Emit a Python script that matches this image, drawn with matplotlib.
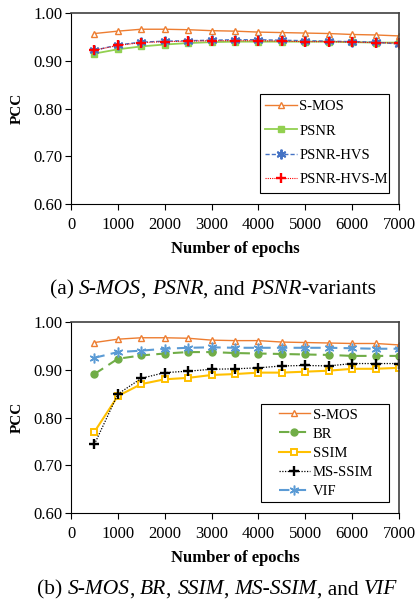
import matplotlib
matplotlib.use("Agg")
import matplotlib.pyplot as plt
from matplotlib.patches import Rectangle
import numpy as np

plt.rcParams['font.family'] = ['Liberation Serif', 'DejaVu Serif']

epochs = [500, 1000, 1500, 2000, 2500, 3000, 3500, 4000, 4500, 5000, 5500, 6000, 6500, 7000]

# Panel (a)
smos_a = [0.957, 0.962, 0.966, 0.966, 0.965, 0.963, 0.962, 0.960, 0.959, 0.958, 0.957, 0.955, 0.954, 0.952]
psnr_a = [0.915, 0.924, 0.930, 0.934, 0.937, 0.939, 0.940, 0.940, 0.940, 0.940, 0.940, 0.939, 0.938, 0.938]
psnr_hvs = [0.922, 0.933, 0.939, 0.941, 0.942, 0.943, 0.944, 0.944, 0.943, 0.942, 0.941, 0.940, 0.939, 0.935]
psnr_hvs_m = [0.922, 0.932, 0.938, 0.940, 0.941, 0.942, 0.942, 0.942, 0.941, 0.940, 0.940, 0.939, 0.938, 0.937]

# Panel (b)
smos_b = [0.957, 0.964, 0.967, 0.967, 0.966, 0.962, 0.961, 0.961, 0.958, 0.957, 0.956, 0.955, 0.955, 0.952]
br = [0.891, 0.923, 0.930, 0.934, 0.937, 0.937, 0.935, 0.934, 0.933, 0.932, 0.931, 0.929, 0.929, 0.929]
ssim = [0.770, 0.845, 0.870, 0.880, 0.883, 0.889, 0.891, 0.894, 0.894, 0.896, 0.898, 0.902, 0.902, 0.904]
ms_ssim = [0.744, 0.849, 0.882, 0.894, 0.897, 0.901, 0.902, 0.904, 0.908, 0.909, 0.908, 0.913, 0.913, 0.913]
vif = [0.925, 0.937, 0.940, 0.944, 0.946, 0.947, 0.946, 0.946, 0.946, 0.946, 0.946, 0.945, 0.944, 0.944]

xticks = [0, 1000, 2000, 3000, 4000, 5000, 6000, 7000]
yticks = [0.60, 0.70, 0.80, 0.90, 1.00]

W, H = 417, 610
fig = plt.figure(figsize=(W / 100, H / 100), dpi=100)

def make_ax(top_px, bot_px):
    left, right = 71, 399
    ax = fig.add_axes([left / W, 1 - bot_px / H, (right - left) / W, (bot_px - top_px) / H])
    ax.set_xlim(0, 7000)
    ax.set_ylim(0.60, 1.00)
    ax.set_xticks(xticks)
    ax.set_yticks(yticks)
    ax.set_yticklabels([f"{v:.2f}" for v in yticks])
    ax.tick_params(axis='both', direction='out', length=4, width=0.8, labelsize=12, pad=2)
    ax.tick_params(axis='x', pad=5)
    for s in ['left', 'bottom']:
        ax.spines[s].set_color('black')
        ax.spines[s].set_linewidth(0.8)
    for s in ['top', 'right']:
        ax.spines[s].set_color('#404040')
        ax.spines[s].set_linewidth(1.2)
    ax.set_ylabel('PCC', fontsize=11, fontweight='bold', labelpad=7)
    ax.set_xlabel('Number of epochs', fontsize=12, fontweight='bold', labelpad=6)
    return ax

def px_to_ax(ax, x_px, y_px, top_px, bot_px):
    return ((x_px - 71) / 328, (bot_px - y_px) / (bot_px - top_px))

def framed_legend(ax, top_px, bot_px, box, handle_x, rows_center, labelspacing, handlelength, textpad):
    x0, y0, x1, y1 = box
    ax.add_patch(Rectangle(px_to_ax(ax, x0, y1, top_px, bot_px), (x1 - x0) / 328, (y1 - y0) / (bot_px - top_px),
                           transform=ax.transAxes, facecolor='white', edgecolor='black', lw=0.8, zorder=4))
    leg = ax.legend(loc='center left', bbox_to_anchor=px_to_ax(ax, handle_x, rows_center, top_px, bot_px),
                    fontsize=10.5, frameon=False, handlelength=handlelength, handletextpad=textpad,
                    borderpad=0, labelspacing=labelspacing, borderaxespad=0)
    leg.set_zorder(5)
    return leg

ORANGE = '#ED7D31'
GREEN = '#92D050'
BLUE = '#4472C4'
RED = '#FF0000'
DGREEN = '#70AD47'
YELLOW = '#FFC000'
LBLUE = '#5B9BD5'
ast = (6, 2, 0)

T1, B1 = 13, 204
ax1 = make_ax(T1, B1)
ax1.plot(epochs, smos_a, color=ORANGE, lw=1.0, marker='^', ms=5, mfc='white', mec=ORANGE, mew=1.0, label='S-MOS')
ax1.plot(epochs, psnr_a, color=GREEN, lw=1.3, marker='s', ms=5, mfc=GREEN, mec=GREEN, label='PSNR')
ax1.plot(epochs, psnr_hvs, color=BLUE, lw=1.0, ls=(0, (3, 1.5)), marker=ast, ms=7, mec=BLUE, mew=1.4, label='PSNR-HVS')
ax1.plot(epochs, psnr_hvs_m, color=RED, lw=0.8, ls=(0, (1, 1)), marker='+', ms=6.5, mec=RED, mew=1.7, label='PSNR-HVS-M')
framed_legend(ax1, T1, B1, (260, 94, 389, 193), 265, 143, 0.75, 2.2, 0.15)

T2, B2 = 322, 513
ax2 = make_ax(T2, B2)
ax2.plot(epochs, smos_b, color=ORANGE, lw=1.0, marker='^', ms=5, mfc='white', mec=ORANGE, mew=1.0, label='S-MOS')
ax2.plot(epochs, br, color=DGREEN, lw=1.5, ls=(0, (5, 3)), marker='o', ms=5, mfc=DGREEN, mec=DGREEN, label='BR')
ax2.plot(epochs, ssim, color=YELLOW, lw=1.5, marker='s', ms=5, mfc='white', mec=YELLOW, mew=1.4, label='SSIM')
ax2.plot(epochs, ms_ssim, color='black', lw=0.9, ls=(0, (1, 1.2)), marker='+', ms=6.5, mec='black', mew=1.7, label='MS-SSIM')
ax2.plot(epochs, vif, color=LBLUE, lw=1.5, ls=(0, (5, 3)), marker=ast, ms=7, mec=LBLUE, mew=1.1, label='VIF')
framed_legend(ax2, T2, B2, (261, 404, 389, 502), 279, 453, 0.4, 2.1, 0.2)

# Captions with mixed upright / italic pieces
def caption(pieces, cx_px, cy_px, size=15.5):
    renderer = fig.canvas.get_renderer()
    texts = []
    widths = []
    for s, style in pieces:
        t = fig.text(0, 0, s, fontsize=size, fontstyle=style, ha='left', va='center')
        bb = t.get_window_extent(renderer=renderer)
        texts.append(t)
        widths.append(bb.width)
    total = sum(widths)
    x = cx_px - total / 2
    for t, w in zip(texts, widths):
        t.set_position((x / W, 1 - cy_px / H))
        x += w

caption([("(a) ", 'normal'), ("S-MOS", 'italic'), (", ", 'normal'), ("PSNR", 'italic'),
         (", and ", 'normal'), ("PSNR", 'italic'), ("-variants", 'normal')], 213, 290)
caption([("(b) ", 'normal'), ("S-MOS", 'italic'), (", ", 'normal'), ("BR", 'italic'),
         (", ", 'normal'), ("SSIM", 'italic'), (", ", 'normal'), ("MS-SSIM", 'italic'),
         (", and ", 'normal'), ("VIF", 'italic')], 217, 590)

fig.savefig('out.png', dpi=100)
